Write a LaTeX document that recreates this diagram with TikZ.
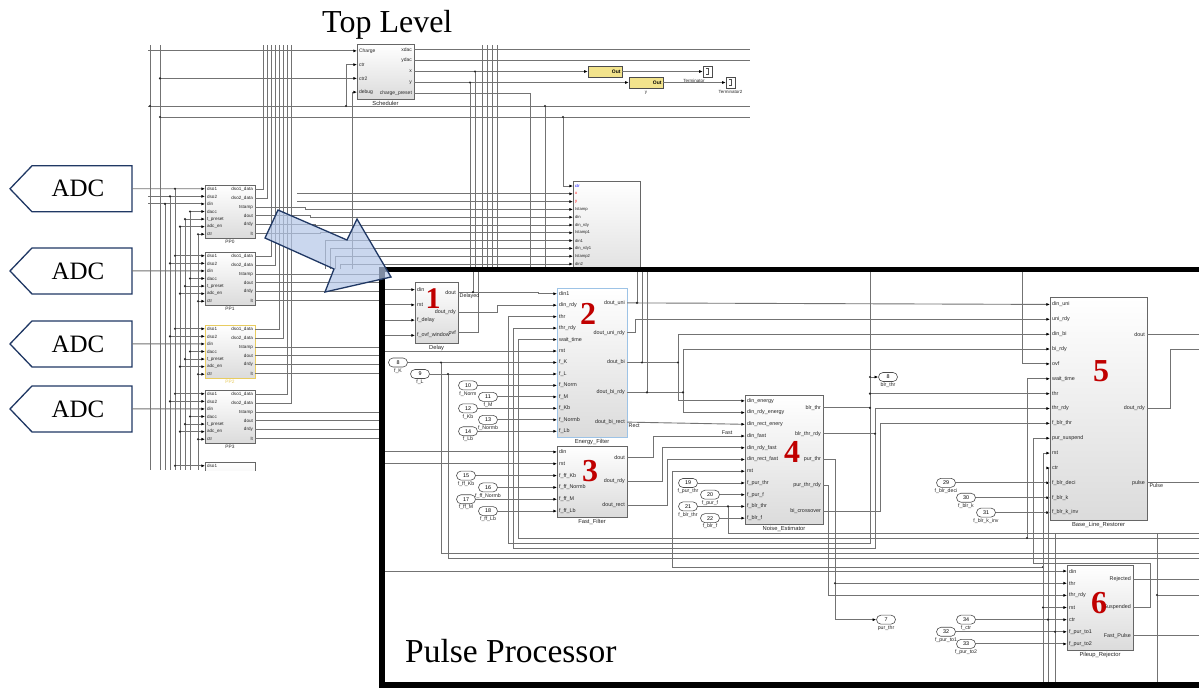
\documentclass[tikz,border=0pt]{standalone}
\usepackage{fontspec}
\setmainfont{Liberation Serif}
\setsansfont{Liberation Sans}
\usetikzlibrary{arrows.meta,shadows,calc}
\definecolor{navy}{HTML}{203864}
\definecolor{arrowblue}{HTML}{B4C7E7}
\definecolor{outyellow}{HTML}{F2E38C}
\definecolor{ppyellow}{HTML}{E8CC60}
\definecolor{efblue}{HTML}{9DC3E6}
\definecolor{numred}{HTML}{C00000}
\newcommand\pfs{5.4}
\tikzset{
  w/.style={draw=black!55, line width=0.9pt},
  a/.style={w, -{Latex[length=3.6pt,width=3pt,color=black]}},
  blk/.style={draw=black!60, line width=0.7pt, top color=white, bottom color=black!14, inner sep=0pt, outer sep=0pt,
     drop shadow={shadow xshift=1.2pt, shadow yshift=-1.2pt, fill=black!40, opacity=0.5}},
  plab/.style={font=\fontsize{\pfs}{\pfs}\selectfont\sffamily, inner sep=0.4pt, text=black!85},
  blab/.style={font=\fontsize{5.8}{5.8}\selectfont\sffamily, inner sep=0.4pt, text=black!85},
  cst/.style={draw=black!70, line width=0.6pt, rounded corners=4.5pt, minimum width=19pt, minimum height=9pt, inner sep=0pt, fill=white, font=\fontsize{5.4}{5.4}\selectfont\sffamily},
  rnum/.style={font=\fontsize{32}{32}\selectfont\bfseries, text=numred, inner sep=0pt},
  adcb/.style={draw=navy, line width=1.3pt, fill=white, line join=miter},
  outb/.style={draw=black!70, line width=0.5pt, fill=outyellow, minimum width=34pt, minimum height=11pt, inner sep=0pt, font=\fontsize{5}{5}\selectfont\sffamily\bfseries, text width=31pt, align=right, drop shadow={shadow xshift=1pt,shadow yshift=-1pt,fill=black!40,opacity=0.5}},
  termb/.style={draw=black!70, line width=0.5pt, fill=white, minimum width=9pt, minimum height=11pt, inner sep=0pt, drop shadow={shadow xshift=1pt,shadow yshift=-1pt,fill=black!40,opacity=0.5}},
}
\newcommand\lports[6]{\foreach \lbl [count=\i] in {#6}{\pgfmathsetmacro\yy{#3+(\i-0.5)*(#4-#3)/#5}\coordinate (#1-L\i) at (#2,\yy);\node[plab,anchor=west] (#1-Lt\i) at (#2+1.5,\yy) {\lbl};}}
\newcommand\rports[6]{\foreach \lbl [count=\i] in {#6}{\pgfmathsetmacro\yy{#3+(\i-0.5)*(#4-#3)/#5}\coordinate (#1-R\i) at (#2,\yy);\node[plab,anchor=east] (#1-Rt\i) at (#2-1.5,\yy) {\lbl};}}
\newcommand\sblk[7][]{\node[blk,anchor=north west,minimum width={#5-#3},minimum height={#6-#4},#1] (#2) at (#3,#4) {};\node[blab,anchor=north] (#2-cap) at ([yshift=-1.5pt]#2.south) {#7};}
\newcommand\jd[1]{\fill[black!85] #1 circle (1.2pt);}
\newcommand\adcs[2]{\draw[adcb] (132,#2-23) -- (32,#2-23) -- (10,#2) -- (32,#2+23) -- (132,#2+23) -- cycle;\node[font=\fontsize{25}{25}\selectfont,inner sep=0pt] (#1) at (78,#2) {ADC};\coordinate (#1-o) at (132,#2);}
\newcommand\ppblk[4]{\sblk[draw=#4]{#1}{205}{#2}{255}{#2+53}{#3}\lports{#1}{205}{#2}{#2+53}{7}{dso1,dso2,din,dacc,t\_preset,adc\_en,ctr}\rports{#1}{255}{#2}{#2+53}{6}{dso1\_data,dso2\_data,tstamp,dout,drdy,lt}}
\newcommand\ppin[1]{%
 \draw[a] ($(#1-L4)+(-15,0)$) -- (#1-L4); \jd{($(#1-L4)+(-15,0)$)}
 \draw[a] ($(#1-L5)+(-20,0)$) -- (#1-L5); \jd{($(#1-L5)+(-20,0)$)}
 \draw[a] ($(#1-L6)+(-25,0)$) -- (#1-L6); \jd{($(#1-L6)+(-25,0)$)}
 \draw[a] ($(#1-L7)+(-7,0)$) -- (#1-L7); \jd{($(#1-L7)+(-7,0)$)}}
\newcommand\cst[5]{\node[cst] (#1) at ([xshift=#3pt]#2) {#4};\node[blab,anchor=north,font=\fontsize{5.2}{5.2}\selectfont\sffamily] (#1-lab) at ([yshift=-0.5pt]#1.south) {#5};}
\begin{document}
\begin{tikzpicture}[x=1pt,y=-1pt]
\useasboundingbox (0,0) rectangle (1199,689);
\fill[white] (0,0) rectangle (1199,689);

%================ TOP LEVEL ================
\node[font=\fontsize{32}{32}\selectfont,anchor=base west,inner sep=0pt] (ttl) at (322,32) {Top Level};

% long verticals
\foreach \xx in {150,160} \draw[w] (\xx,45) -- (\xx,470);
\foreach \xx in {482,487,492,497} \draw[w] (\xx,45) -- (\xx,269);
\draw[w] (165,204) -- (165,470);
\draw[w] (170,196.4) -- (170,470);
\draw[w] (175,188.8) -- (175,470);
\draw[w] (180,226.7) -- (180,470);
\draw[w] (185,219.1) -- (185,470);
\draw[w] (190,211.5) -- (190,470);
\draw[w] (198,234.2) -- (198,470);

% scheduler
\renewcommand\pfs{5}
\sblk{sch}{357}{44}{414}{99}{Scheduler}
\lports{sch}{357}{44}{99}{4}{Charge,ctr,ctr2,debug}
\rports{sch}{414}{44}{99}{5}{xdac,ydac,x,y,charge\_preset}
\draw[a] ($(sch-L1)+(-209,0)$) -- (sch-L1);
\draw[w] (148,106) -- (750,106); \jd{(150,106)}
\draw[w] (160,117) -- (750,117); \jd{(160,117)}
\draw[a] (346,106) |- (sch-L2); \jd{(346,106)}
\draw[a] ($(sch-L3)+(-197,0)$) -- (sch-L3); \jd{($(sch-L3)+(-197,0)$)}
\draw[a] (352,269) |- (sch-L4);
\draw[w] (sch-R1) -- ($(sch-R1)+(336,0)$);
\draw[w] (sch-R2) -- ($(sch-R2)+(336,0)$);
\node[outb] (out1) at ([xshift=191pt]sch-R3) {Out};
\node[outb] (out2) at ([xshift=232pt]sch-R4) {Out};
\node[termb] (term1) at ([xshift=293.5pt]sch-R3) {};
\node[termb] (term2) at ([xshift=316.5pt]sch-R4) {};
\draw[black!70,line width=0.5pt] ([xshift=-2pt,yshift=3pt]term1.center) -- ++(3,0) -- ++(0,6) -- ++(-3,0);
\draw[black!70,line width=0.5pt] ([xshift=-2pt,yshift=3pt]term2.center) -- ++(3,0) -- ++(0,6) -- ++(-3,0);
\draw[a] (sch-R3) -- (out1.west);
\draw[a] (out1.east) -- (term1.west);
\draw[a] (sch-R4) -- (out2.west);
\draw[a] (out2.east) -- (term2.west);
\renewcommand\pfs{4.5}
\node[plab] (tlab1) at (694,81) {Terminator};
\node[plab,anchor=north] (tlab2) at ([yshift=-1.5pt]term2.south) {Terminator2};
\node[plab,anchor=north] (ylab) at ([yshift=-2pt]out2.south) {y};
\draw[w] ($(sch-R3)+(61,0)$) -- ++(0,200); \jd{($(sch-R3)+(61,0)$)}
\draw[w] ($(sch-R4)+(56,0)$) -- ++(0,190); \jd{($(sch-R4)+(56,0)$)}
\draw[w] (sch-R5) -| (530,269);
\draw[w] (545,106) -- (545,269); \jd{(545,106)}

% middle collector block
\renewcommand\pfs{4.2}
\sblk{mid}{573}{181}{640}{290}{}
\lports{mid}{573}{182.1}{267.9}{11}{{\color{blue}ctr},{\color{red}x},{\color{red}y},tstamp,din,din\_rdy,tstamp1,din1,din\_rdy1,tstamp2,din2}
\draw[a] (563,117) |- (mid-L1); \jd{(563,117)}
\draw[a] ($(mid-L2)+(-276,0)$) -- (mid-L2);
\draw[a] ($(mid-L3)+(-276,0)$) -- (mid-L3);
\draw[a] (325,269) |- (mid-L8);
\draw[a] (330,269) |- (mid-L9);
\draw[a] (335,269) |- (mid-L10);
\draw[a] (340,269) |- (mid-L11);

% ADCs
\adcs{adc1}{188.79}
\adcs{adc2}{270.93}
\adcs{adc3}{343.93}
\adcs{adc4}{408.93}

% PP blocks
\renewcommand\pfs{4.6}
\ppblk{pp0}{185}{\fontsize{4.8}{4.8}\selectfont PP0}{black!60}
\ppblk{pp1}{252}{\fontsize{4.8}{4.8}\selectfont PP1}{black!60}
\ppblk{pp2}{325}{\fontsize{4.8}{4.8}\selectfont\color{ppyellow}PP2}{ppyellow}
\ppblk{pp3}{390}{\fontsize{4.8}{4.8}\selectfont PP3}{black!60}
\begin{scope}
\clip (0,440) rectangle (381,470.5);
\sblk{pp4}{205}{462}{255}{515}{}
\lports{pp4}{205}{462}{515}{7}{dso1,dso2,din,dacc,t\_preset,adc\_en,ctr}
\draw[a] ($(pp4-L1)+(-30,0)$) -- (pp4-L1); \jd{($(pp4-L1)+(-30,0)$)}
\end{scope}

% PP inputs
\draw[a] (adc1-o) -- (pp0-L1); \jd{(175,188.79)}
\draw[a] ($(pp0-L2)+(-57,0)$) -- (pp0-L2); \jd{($(pp0-L2)+(-35,0)$)}
\draw[a] ($(pp0-L3)+(-57,0)$) -- (pp0-L3); \jd{($(pp0-L3)+(-40,0)$)}
\ppin{pp0}
\foreach \p/\q in {pp1/adc2,pp2/adc3,pp3/adc4}{
  \draw[a] ($(\p-L1)+(-30,0)$) -- (\p-L1); \jd{($(\p-L1)+(-30,0)$)}
  \draw[a] ($(\p-L2)+(-35,0)$) -- (\p-L2); \jd{($(\p-L2)+(-35,0)$)}
  \draw[a] (\q-o) -- (\p-L3);
  \ppin{\p}
}
% PP outputs
\draw[w] (pp0-R1) -| (263,45); \draw[w] (pp0-R2) -| (267,45);
\draw[w] (pp1-R1) -| (271,45); \draw[w] (pp1-R2) -| (275,45);
\draw[w] (pp2-R1) -| (279,45); \draw[w] (pp2-R2) -| (283,45);
\draw[w] (pp3-R1) -| (287,45); \draw[w] (pp3-R2) -| (291,45);
\draw[a] (pp0-R3) -| ($(mid-L4)+(-268,0)$) -- (mid-L4);
\draw[a] (pp0-R4) -| ($(mid-L5)+(-263,0)$) -- (mid-L5);
\draw[a] (pp0-R5) -| ($(mid-L6)+(-258,0)$) -- (mid-L6);
\draw[a] (pp0-R6) -| ($(mid-L7)+(-253,0)$) -- (mid-L7);
\foreach \p in {pp1,pp2,pp3}{\foreach \r in {3,4,5,6}{\draw[w] (\p-R\r) -- ++(127,0);}}

%================ PULSE PROCESSOR ================
\fill[white] (382,269.5) rectangle (1215,685);
\renewcommand\pfs{5.4}
\sblk{B1}{415}{282}{458}{343}{Delay}
\lports{B1}{415}{282}{343}{4}{din,rst,f\_delay,f\_ovf\_window}
\rports{B1}{458}{282}{343}{3}{dout,dout\_rdy,ovf}
\sblk[draw=efblue,line width=0.9pt]{B2}{557}{288}{627}{437}{Energy\_Filter}
\lports{B2}{557}{288}{437}{13}{din1,din\_rdy,thr,thr\_rdy,wait\_time,rst,f\_K,f\_L,f\_Norm,f\_M,f\_Kb,f\_Normb,f\_Lb}
\rports{B2}{627}{288}{437}{5}{dout\_uni,dout\_uni\_rdy,dout\_bi,dout\_bi\_rdy,dout\_bi\_rect}
\sblk{B3}{557}{446}{627}{517}{Fast\_Filter}
\lports{B3}{557}{446}{517}{6}{din,rst,f\_ff\_Kb,f\_ff\_Normb,f\_ff\_M,f\_ff\_Lb}
\rports{B3}{627}{446}{517}{3}{dout,dout\_rdy,dout\_rect}
\sblk{B4}{745}{395}{823}{524}{Noise\_Estimator}
\lports{B4}{745}{395}{524}{11}{din\_energy,din\_rdy\_energy,din\_rect\_enery,din\_fast,din\_rdy\_fast,din\_rect\_fast,rst,f\_pur\_thr,f\_pur\_f,f\_blr\_thr,f\_blr\_f}
\rports{B4}{823}{395}{524}{5}{blr\_thr,blr\_thr\_rdy,pur\_thr,pur\_thr\_rdy,bi\_crossover}
\sblk{B5}{1050}{297}{1147}{520}{Base\_Line\_Restorer}
\lports{B5}{1050}{297}{520}{15}{din\_uni,uni\_rdy,din\_bi,bi\_rdy,ovf,wait\_time,thr,thr\_rdy,f\_blr\_thr,pur\_suspend,rst,ctr,f\_blr\_deci,f\_blr\_k,f\_blr\_k\_inv}
\rports{B5}{1147}{297}{520}{3}{dout,dout\_rdy,pulse}
\sblk{B6}{1067}{565}{1133}{650}{Pileup\_Rejector}
\lports{B6}{1067}{565}{650}{7}{din,thr,thr\_rdy,rst,ctr,f\_pur\_to1,f\_pur\_to2}
\rports{B6}{1133}{565}{650}{3}{Rejected,Suspended,Fast\_Pulse}

% constants
\cst{c8}{B2-L7}{-159}{8}{f\_K}
\cst{c9}{B2-L8}{-137}{9}{f\_L}
\cst{c10}{B2-L9}{-89}{10}{f\_Norm}
\cst{c11}{B2-L10}{-69}{11}{f\_M}
\cst{c12}{B2-L11}{-89}{12}{f\_Kb}
\cst{c13}{B2-L12}{-69}{13}{f\_Normb}
\cst{c14}{B2-L13}{-89}{14}{f\_Lb}
\cst{c15}{B3-L3}{-91}{15}{f\_ff\_Kb}
\cst{c16}{B3-L4}{-69}{16}{f\_ff\_Normb}
\cst{c17}{B3-L5}{-91}{17}{f\_ff\_M}
\cst{c18}{B3-L6}{-69}{18}{f\_ff\_Lb}
\cst{c19}{B4-L8}{-57}{19}{f\_pur\_thr}
\cst{c20}{B4-L9}{-35}{20}{f\_pur\_f}
\cst{c21}{B4-L10}{-57}{21}{f\_blr\_thr}
\cst{c22}{B4-L11}{-35}{22}{f\_blr\_f}
\cst{c29}{B5-L13}{-104}{29}{f\_blr\_deci}
\cst{c30}{B5-L14}{-84}{30}{f\_blr\_k}
\cst{c31}{B5-L15}{-64}{31}{f\_blr\_k\_inv}
\cst{c34}{B6-L5}{-101}{34}{f\_ctr}
\cst{c32}{B6-L6}{-121}{32}{f\_pur\_to1}
\cst{c33}{B6-L7}{-101}{33}{f\_pur\_to2}
\cst{o7}{B6-L5}{-181}{7}{pur\_thr}
\node[cst] (o8) at (888,377) {8};
\node[blab,anchor=north,font=\fontsize{5.2}{5.2}\selectfont\sffamily] (o8-lab) at ([yshift=-0.5pt]o8.south) {blr\_thr};
\foreach \c/\p in {c8/B2-L7,c9/B2-L8,c10/B2-L9,c11/B2-L10,c12/B2-L11,c13/B2-L12,c14/B2-L13,c15/B3-L3,c16/B3-L4,c17/B3-L5,c18/B3-L6,c19/B4-L8,c20/B4-L9,c21/B4-L10,c22/B4-L11,c29/B5-L13,c30/B5-L14,c31/B5-L15,c34/B6-L5,c32/B6-L6,c33/B6-L7}{\draw[a] (\c.east) -- (\p);}

% wires from left frame edge
\foreach \p in {1,2,3,4} \draw[a] ($(B1-L\p)+(-30,0)$) -- (B1-L\p);
\draw[a] ($(B2-L6)+(-172,0)$) -- (B2-L6);
\draw[a] ($(B3-L1)+(-172,0)$) -- (B3-L1);
\draw[a] ($(B3-L2)+(-172,0)$) -- (B3-L2);
\draw[a] ($(B6-L1)+(-682,0)$) -- (B6-L1);

% Delay outputs
\draw[a] (B1-R1) -- ++(80,0) |- (B2-L1);
\draw[w] ($(B1-R1)+(15,0)$) -- ++(0,-23); \jd{($(B1-R1)+(15,0)$)}
\draw[w] (B1-R3) -| (478,270);
\draw[a] (B1-R2) -- ++(39,0) |- (B2-L2);
\node[plab,anchor=north west] (dly) at ([xshift=1pt,yshift=-0.5pt]B1-R1) {Delayed};

% constant branches
\draw[w] ($(B2-L7)+(-116,0)$) |- (1199,553); \jd{($(B2-L7)+(-116,0)$)}
\draw[w] ($(B2-L8)+(-109,0)$) |- (1199,558); \jd{($(B2-L8)+(-109,0)$)}

% thr, thr_rdy, wait_time nets
\draw[w] (870,270) -- (870,543) -- (508,543);
\draw[a] (508,543) |- (B2-L3);
\draw[a] (1199,538) -- (518,538) |- (B2-L5);
\draw[a] (1027,538) |- (B5-L6); \jd{(1027,538)}
\draw[w] (B4-R1) -- ($(B4-R1)+(47,0)$); \jd{($(B4-R1)+(47,0)$)}
\draw[a] (870,377) -- (o8.west); \jd{(870,377)}
\draw[a] ($(B5-L7)+(-180,0)$) -- (B5-L7); \jd{($(B5-L7)+(-180,0)$)}
\draw[w] (B4-R2) -- ++(52,0);
\draw[a] ($(B4-R2)+(52,0)$) |- (B5-L8);
\draw[a] ($(B4-R2)+(52,0)$) -- (875,548) -- (513,548) |- (B2-L4);
\jd{($(B4-R2)+(52,0)$)}

% Energy filter outputs
\draw[a] (B2-R1) -- (B5-L1);
\draw[w] ($(B2-R1)+(10,0)$) -- ++(0,-34); \jd{($(B2-R1)+(10,0)$)}
\draw[a] (B2-R2) -- ++(8,0) |- (B5-L2);
\draw[a] (B2-R3) -- ++(51,0) |- (B5-L3);
\draw[a] ($(B2-R3)+(51,0)$) |- (B4-L1); \jd{($(B2-R3)+(51,0)$)}
\draw[w] ($(B2-R3)+(15,0)$) -- ++(0,-94); \jd{($(B2-R3)+(15,0)$)}
\draw[a] (B2-R4) -- ++(56,0) |- (B5-L4);
\draw[a] ($(B2-R4)+(56,0)$) |- (B4-L2); \jd{($(B2-R4)+(56,0)$)}
\draw[w] ($(B2-R4)+(20,0)$) -- ++(0,-124); \jd{($(B2-R4)+(20,0)$)}
\draw[a] (B2-R5) -- (B4-L3);
\node[plab,anchor=north west] (rect) at ([xshift=1pt,yshift=-1pt]B2-R5) {Rect};

% Fast filter outputs
\draw[a] (B3-R1) -- ++(26,0) |- (B4-L4);
\node[plab,anchor=south east] (fast) at ([xshift=-12pt,yshift=0.8pt]B4-L4) {Fast};
\draw[a] (B3-R2) -- ++(35,0) |- (B4-L5);
\draw[a] (B3-R3) -- ++(40,0) |- (B4-L6);
\draw[a] (1043,567) -- (672,567) |- (B4-L7); \jd{(1043,567)}
\draw[w] ($(B4-L10)+(-17,0)$) |- (1199,533); \jd{($(B4-L10)+(-17,0)$)}

% Noise estimator outputs
\draw[a] (B4-R3) -- ++(12,0) |- (o7.west);
\draw[a] ($(B6-L2)+(-232,0)$) -- (B6-L2); \jd{($(B6-L2)+(-232,0)$)}
\draw[a] (B4-R4) -- ++(5,0) |- (B6-L3);
\draw[a] (B4-R5) -- ++(57,0) |- (B5-L9);

% BLR / PUR wiring
\draw[a] (1022,270) |- (B5-L5);
\draw[a] (B6-R2) -- ++(17,0) |- (1033,563) |- (B5-L10);
\draw[a] (1043,684) |- (B5-L11);
\draw[a] ($(B6-L4)+(-24,0)$) -- (B6-L4); \jd{($(B6-L4)+(-24,0)$)}
\draw[a] (1048,684) |- (B5-L12); \jd{($(B6-L5)+(-19,0)$)}
\draw[w] (1055,533) -- (1055,684); \jd{($(B6-L6)+(-12,0)$)}
\draw[w] (B5-R1) -- ($(B5-R1)+(52,0)$);
\draw[w] (B5-R2) -- ++(23,0) |- (1199,349);
\draw[w] (B5-R3) -- ($(B5-R3)+(52,0)$);
\node[plab,anchor=north west] (pulse) at ([xshift=2pt,yshift=-0.5pt]B5-R3) {Pulse};
\draw[w] (B6-R1) -- ($(B6-R1)+(66,0)$);
\draw[w] (B6-R3) -- ($(B6-R3)+(66,0)$);
\draw[w] (1157,533) -- (1157,684); \draw[w] (1157,595) -- (1199,595); \jd{(1157,595)}

% red numbers
\node[rnum,font=\fontsize{30}{30}\selectfont\bfseries] (n1) at (433,299) {1};
\node[rnum] (n2) at (588,314) {2};
\node[rnum] (n3) at (590,471) {3};
\node[rnum] (n4) at (792,452) {4};
\node[rnum] (n5) at (1101,371) {5};
\node[rnum] (n6) at (1099,603) {6};

\node[font=\fontsize{33.5}{33.5}\selectfont,anchor=base west,inner sep=0pt] (ptl) at (405,662) {Pulse Processor};

% frame
\draw[line width=5.5pt] (382,269.5) rectangle (1225,685);

% big blue arrow
\draw[draw=navy, line width=1.3pt, fill=arrowblue, fill opacity=0.7, line join=miter]
  (278,210) -- (347,240) -- (357,219) -- (391,277) -- (325,292) -- (334,269) -- (265,238) -- cycle;
\end{tikzpicture}
\end{document}
